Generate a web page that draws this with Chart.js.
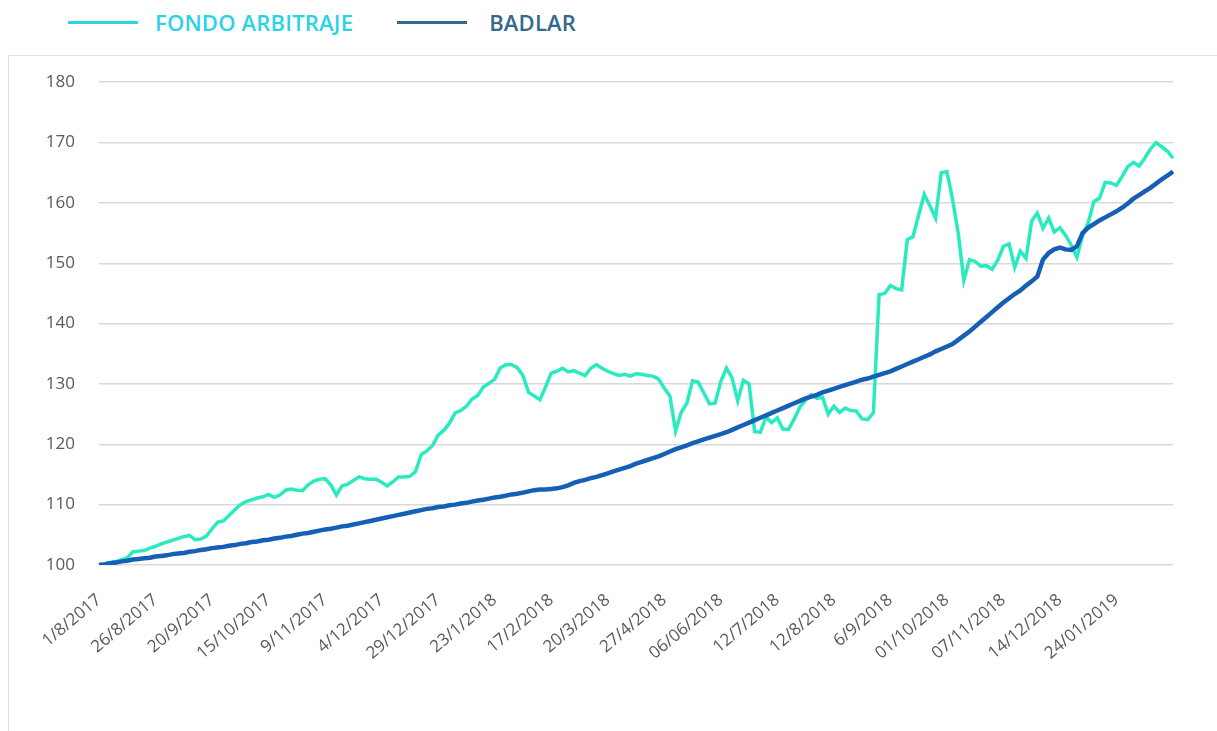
<!DOCTYPE html>
<html>
<head>
<meta charset="utf-8">
<script src="https://cdn.jsdelivr.net/npm/chart.js@4.4.1/dist/chart.umd.min.js"></script>
<style>
  body { margin: 0; background: #fff; width: 1217px; height: 731px; overflow: hidden; position: relative; font-family: 'Open Sans', sans-serif; }
  #leyenda { position: absolute; left: 68px; top: 8px; height: 28px; display: flex; align-items: center; }
  .item { display: flex; align-items: center; margin-right: 44px; }
  .linea { width: 70px; height: 3px; }
  .texto { font-size: 22px; font-weight: 600; letter-spacing: 0.2px; }
  #caja { position: absolute; left: 8px; top: 55px; width: 1240px; height: 700px; border: 1px solid #dedede; }
  #lienzo { position: absolute; left: 9px; top: 48px; width: 1208px; height: 683px; }
</style>
</head>
<body>
<div id="leyenda"></div>
<div id="caja"></div>
<div id="lienzo"><canvas id="grafico"></canvas></div>
<script>
// fechas del eje X (una cada 10 puntos)
const fechas = ['1/8/2017', '26/8/2017', '20/9/2017', '15/10/2017', '9/11/2017', '4/12/2017',
  '29/12/2017', '23/1/2018', '17/2/2018', '20/3/2018', '27/4/2018', '06/06/2018', '12/7/2018',
  '12/8/2018', '6/9/2018', '01/10/2018', '07/11/2018', '14/12/2018', '24/01/2019'];
const puntosPorFecha = 10;

const fondoArbitraje = [
  100.0, 100.2, 100.4, 100.6, 100.9, 101.2, 102.2, 102.3, 102.4, 102.8,
  103.1, 103.5, 103.8, 104.1, 104.4, 104.7, 104.9, 104.2, 104.3, 104.8,
  106.0, 107.1, 107.3, 108.2, 109.1, 110.0, 110.5, 110.8, 111.1, 111.3,
  111.7, 111.2, 111.6, 112.4, 112.6, 112.4, 112.3, 113.3, 113.9, 114.2,
  114.3, 113.3, 111.6, 113.1, 113.4, 114.0, 114.6, 114.3, 114.2, 114.2,
  113.7, 113.1, 113.8, 114.6, 114.6, 114.7, 115.5, 118.3, 118.9, 119.8,
  121.5, 122.3, 123.5, 125.2, 125.6, 126.3, 127.5, 128.1, 129.5, 130.1,
  130.8, 132.7, 133.2, 133.2, 132.7, 131.4, 128.6, 128.0, 127.4, 129.5,
  131.8, 132.1, 132.6, 132.0, 132.2, 131.8, 131.4, 132.6, 133.2, 132.6,
  132.1, 131.7, 131.4, 131.6, 131.3, 131.7, 131.6, 131.4, 131.3, 130.8,
  129.3, 128.0, 122.2, 125.3, 126.8, 130.5, 130.3, 128.5, 126.7, 126.8,
  130.4, 132.6, 131.0, 127.2, 130.6, 130.0, 122.1, 122.0, 124.5, 123.6,
  124.4, 122.5, 122.5, 124.2, 126.2, 127.3, 128.2, 127.6, 127.8, 125.0,
  126.3, 125.3, 126.0, 125.6, 125.5, 124.2, 124.1, 125.2, 144.8, 145.0,
  146.3, 145.8, 145.6, 153.9, 154.4, 158.0, 161.4, 159.5, 157.5, 165.0,
  165.2, 160.6, 155.0, 147.2, 150.6, 150.3, 149.5, 149.6, 149.0, 150.5,
  152.8, 153.2, 149.3, 152.0, 150.8, 157.0, 158.3, 155.8, 157.5, 155.2,
  155.9, 154.6, 153.0, 151.0, 154.6, 156.7, 160.2, 160.8, 163.4, 163.3,
  162.9, 164.4, 166.0, 166.7, 166.1, 167.4, 168.9, 170.0, 169.3, 168.6,
  167.4
];

const badlar = [
  100.0, 100.1, 100.3, 100.4, 100.6, 100.7, 100.9, 101.0, 101.1, 101.2,
  101.4, 101.5, 101.6, 101.8, 101.9, 102.0, 102.2, 102.3, 102.5, 102.6,
  102.8, 102.9, 103.0, 103.2, 103.3, 103.5, 103.6, 103.8, 103.9, 104.1,
  104.2, 104.4, 104.5, 104.7, 104.8, 105.0, 105.2, 105.3, 105.5, 105.7,
  105.9, 106.0, 106.2, 106.4, 106.5, 106.7, 106.9, 107.1, 107.3, 107.5,
  107.7, 107.9, 108.1, 108.3, 108.5, 108.7, 108.9, 109.1, 109.3, 109.4,
  109.6, 109.7, 109.9, 110.0, 110.2, 110.3, 110.5, 110.7, 110.8, 111.0,
  111.2, 111.3, 111.5, 111.7, 111.8, 112.0, 112.2, 112.4, 112.5, 112.5,
  112.6, 112.7, 112.9, 113.2, 113.6, 113.9, 114.1, 114.4, 114.6, 114.9,
  115.2, 115.5, 115.8, 116.1, 116.4, 116.8, 117.1, 117.4, 117.7, 118.0,
  118.4, 118.8, 119.2, 119.5, 119.8, 120.2, 120.5, 120.8, 121.1, 121.4,
  121.7, 122.0, 122.4, 122.8, 123.2, 123.6, 124.0, 124.4, 124.8, 125.2,
  125.6, 126.0, 126.4, 126.8, 127.2, 127.6, 127.9, 128.2, 128.6, 128.9,
  129.2, 129.5, 129.8, 130.1, 130.4, 130.7, 130.9, 131.2, 131.5, 131.8,
  132.1, 132.5, 132.9, 133.3, 133.7, 134.1, 134.5, 134.9, 135.4, 135.8,
  136.2, 136.6, 137.3, 138.0, 138.7, 139.5, 140.3, 141.1, 141.9, 142.7,
  143.5, 144.2, 144.9, 145.5, 146.3, 147.0, 147.8, 150.6, 151.7, 152.3,
  152.6, 152.3, 152.2, 152.8, 155.0, 155.9, 156.5, 157.1, 157.6, 158.1,
  158.6, 159.2, 159.9, 160.7, 161.3, 161.9, 162.5, 163.2, 163.9, 164.5,
  165.2
];

const etiquetasY = [100, 110, 120, 130, 140, 150, 160, 170, 180];

// una etiqueta por punto, solo se muestran las fechas
const etiquetas = fondoArbitraje.map((v, i) => i % puntosPorFecha === 0 ? (fechas[i / puntosPorFecha] || '') : '');

const series = [
  { nombre: 'FONDO ARBITRAJE', datos: fondoArbitraje, color: '#2aeabf', ancho: 3.5, leyenda: '#2ad3e6', orden: 1, sep: 17 },
  { nombre: 'BADLAR', datos: badlar, color: '#155fb6', ancho: 4.5, leyenda: '#33698c', orden: 0, sep: 22 }
];

// leyenda en html
const leyenda = document.getElementById('leyenda');
series.forEach(s => {
  const item = document.createElement('div');
  item.className = 'item';
  item.innerHTML = '<div class="linea" style="background:' + s.leyenda + ';margin-right:' + s.sep + 'px"></div>' +
    '<span class="texto" style="color:' + s.leyenda + '">' + s.nombre + '</span>';
  leyenda.appendChild(item);
});

const ctx = document.getElementById('grafico').getContext('2d');
const chart = new Chart(ctx, {
  type: 'line',
  data: {
    labels: etiquetas,
    datasets: series.map(s => ({
      label: s.nombre,
      data: s.datos,
      borderColor: s.color,
      backgroundColor: s.color,
      borderWidth: s.ancho,
      pointRadius: 0,
      tension: 0,
      order: s.orden
    }))
  },
  options: {
    responsive: true,
    maintainAspectRatio: false,
    animation: false,
    layout: { padding: { top: 20, right: 44, left: 0, bottom: 0 } },
    plugins: {
      legend: { display: false },
      tooltip: { enabled: false }
    },
    scales: {
      x: {
        grid: { display: false },
        border: { display: false },
        afterFit: (s) => { s.height = 166; },
        ticks: {
          autoSkip: false,
          minRotation: 40,
          maxRotation: 40,
          padding: 17,
          color: '#595959',
          font: { family: 'Open Sans', size: 17 },
          callback: function (val) { return this.getLabelForValue(val); }
        }
      },
      y: {
        min: etiquetasY[0],
        max: etiquetasY[etiquetasY.length - 1],
        afterFit: (s) => { s.width = 90; },
        border: { display: false },
        grid: { color: '#d9d9d9', lineWidth: 1.5, drawTicks: false },
        ticks: {
          stepSize: 10,
          padding: 24,
          color: '#595959',
          font: { family: 'Open Sans', size: 17 }
        }
      }
    }
  }
});
</script>
</body>
</html>
